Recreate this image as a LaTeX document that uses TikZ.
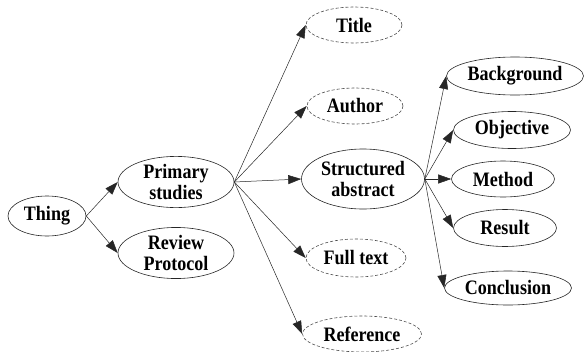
\documentclass[tikz,border=0pt]{standalone}
\usepackage{fontspec}
\setmainfont[FakeStretch=0.88]{Liberation Serif}
\usetikzlibrary{arrows.meta,shapes.geometric}
\begin{document}
\begin{tikzpicture}[x=1pt,y=-1pt,
  box/.style={ellipse,inner sep=0pt,align=center,font=\fontsize{20.5}{21.7}\selectfont\bfseries},
  solidn/.style={box,draw=black!85,line width=0.6pt},
  dashn/.style={box,draw=black!70,dash pattern=on 3pt off 2pt,line width=0.6pt},
  edge/.style={-{Triangle[length=13pt,width=9pt]},line width=0.5pt,draw=black!85},
]
\useasboundingbox (0,0) rectangle (584,351);
\node[solidn,minimum width=78pt,minimum height=40pt] (thing) at (47,216) {Thing};
\node[solidn,minimum width=116pt,minimum height=50pt] (prim) at (176,182) {Primary\\studies};
\node[solidn,minimum width=116pt,minimum height=48pt] (rev) at (176,253) {Review\\Protocol};
\node[dashn,minimum width=96pt,minimum height=36pt] (title) at (354,25) {Title};
\node[dashn,minimum width=96pt,minimum height=36pt] (author) at (355,106) {Author};
\node[solidn,minimum width=123pt,minimum height=60pt] (sa) at (363,179) {Structured\\abstract};
\node[dashn,minimum width=100pt,minimum height=38pt] (full) at (356,258) {Full text};
\node[dashn,minimum width=119pt,minimum height=36pt] (ref) at (362,334) {Reference};
\node[solidn,minimum width=137pt,minimum height=38pt] (bg) at (515,76) {Background};
\node[solidn,minimum width=117pt,minimum height=37pt] (obj) at (512,130) {Objective};
\node[solidn,minimum width=103pt,minimum height=36pt] (meth) at (503,179) {Method};
\node[solidn,minimum width=103pt,minimum height=37pt] (res) at (505,228) {Result};
\node[solidn,minimum width=127pt,minimum height=34pt] (conc) at (508,288) {Conclusion};
\draw[edge] (thing.east) -- (prim.west);
\draw[edge] (thing.east) -- (rev.west);
\draw[edge] (prim.east) -- (title.west);
\draw[edge] (prim.east) -- (author.west);
\draw[edge] (prim.east) -- (sa.west);
\draw[edge] (prim.east) -- (full.west);
\draw[edge] (prim.east) -- (ref.west);
\draw[edge] (sa.east) -- (bg.west);
\draw[edge] (sa.east) -- (obj.west);
\draw[edge] (sa.east) -- (meth.west);
\draw[edge] (sa.east) -- (res.west);
\draw[edge] (sa.east) -- (conc.west);
\end{tikzpicture}
\end{document}
